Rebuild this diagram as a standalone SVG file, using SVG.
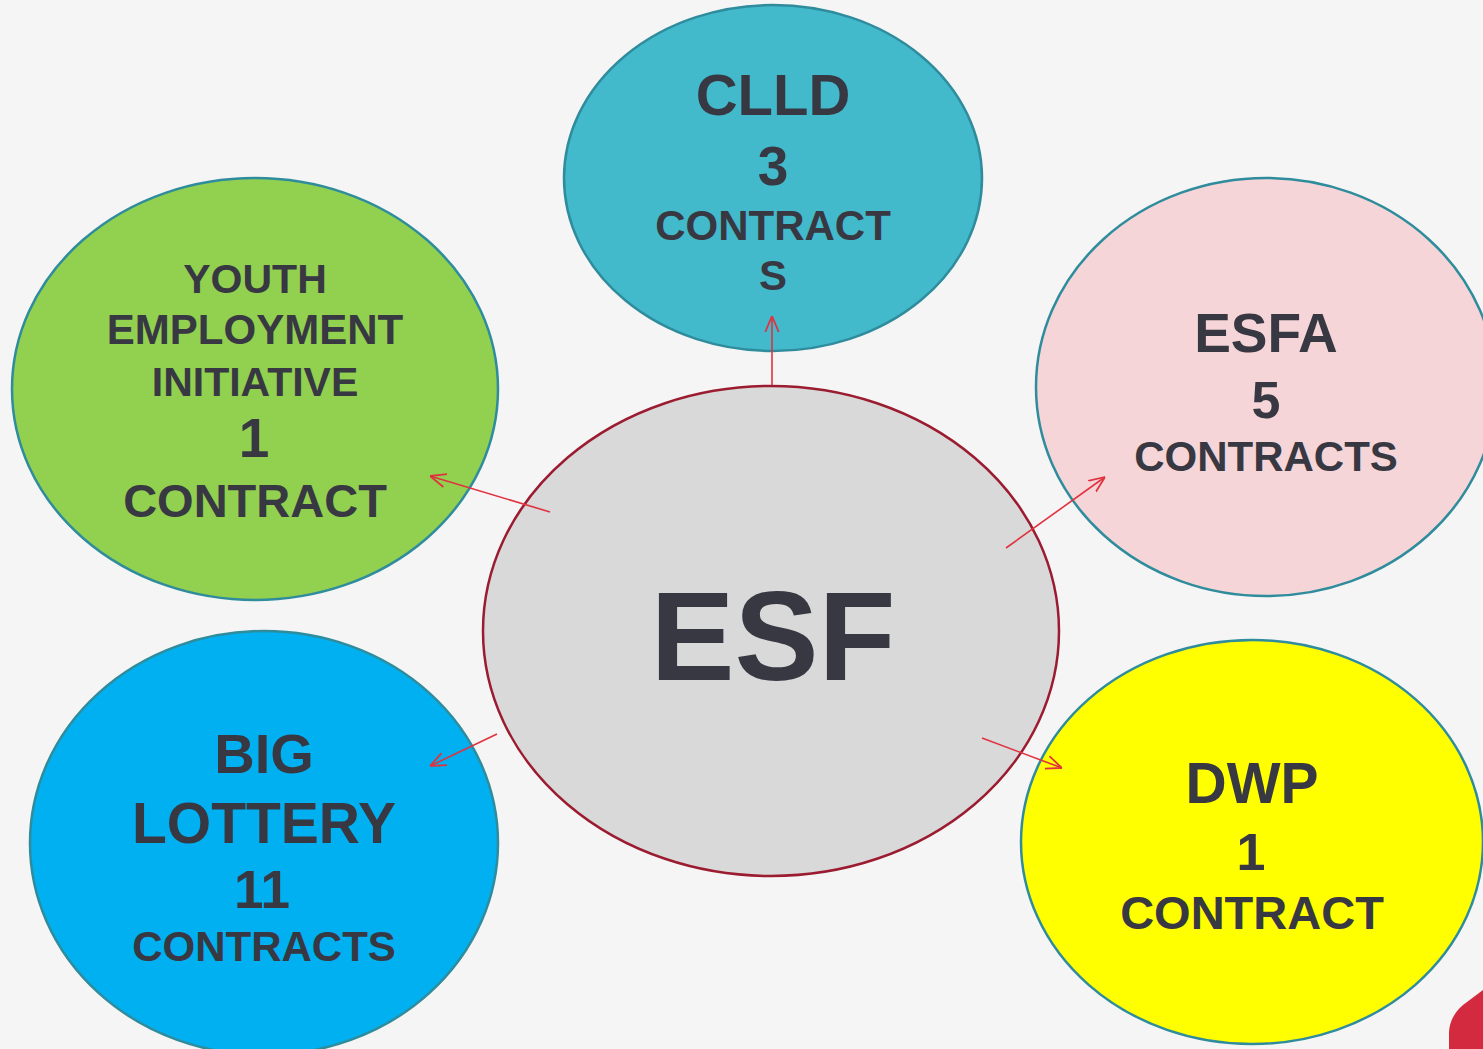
<svg xmlns="http://www.w3.org/2000/svg" width="1483" height="1049" viewBox="0 0 1483 1049">
<style>
.node ellipse{stroke-width:2.5}
.sat{stroke:#2F8C9C}
.t{font-family:"Liberation Sans",Arial,sans-serif;font-weight:bold;fill:#383843;text-anchor:middle}
.conn line{stroke:#E0323F;stroke-width:1.6;fill:none}
</style>
<defs>
<marker id="ah" viewBox="0 0 10 10" refX="10" refY="5" markerWidth="16" markerHeight="16" markerUnits="userSpaceOnUse" orient="auto">
<path d="M0,0.8 L10,5 L0,9.2" fill="none" stroke="#E0323F" stroke-width="1.1"/>
</marker>
</defs>
<rect width="1483" height="1049" fill="#F5F5F5"/>
<path d="M1449,1049 L1449,1032 Q1450,1016 1463,1005 L1483,990 L1483,1049 Z" fill="#D42A40"/>

<g id="clld" class="node">
<ellipse class="sat" cx="773" cy="178" rx="209" ry="173" fill="#43BACC"/>
<text class="t" x="773" y="115" font-size="58">CLLD</text>
<text class="t" x="773" y="185" font-size="55">3</text>
<text class="t" x="773" y="240" font-size="42">CONTRACT</text>
<text class="t" x="773" y="290" font-size="42">S</text>
</g>

<g id="yei" class="node">
<ellipse class="sat" cx="255" cy="389" rx="243" ry="211" fill="#92D050"/>
<text class="t" x="255" y="293" font-size="41">YOUTH</text>
<text class="t" x="255" y="344" font-size="42">EMPLOYMENT</text>
<text class="t" x="255" y="396" font-size="41">INITIATIVE</text>
<text class="t" x="254" y="457" font-size="55">1</text>
<text class="t" x="255" y="517" font-size="47">CONTRACT</text>
</g>

<g id="esfa" class="node">
<ellipse class="sat" cx="1266" cy="387" rx="230" ry="209" fill="#F5D5D8"/>
<text class="t" x="1266" y="352" font-size="55">ESFA</text>
<text class="t" x="1266" y="418" font-size="52">5</text>
<text class="t" x="1266" y="471" font-size="42">CONTRACTS</text>
</g>

<g id="biglottery" class="node">
<ellipse class="sat" cx="264" cy="843" rx="234" ry="212" fill="#00B0F0"/>
<text class="t" x="264" y="773" font-size="56">BIG</text>
<text class="t" x="264" y="843" font-size="57">LOTTERY</text>
<text class="t" x="262" y="908" font-size="53">11</text>
<text class="t" x="264" y="961" font-size="42">CONTRACTS</text>
</g>

<g id="dwp" class="node">
<ellipse class="sat" cx="1252" cy="842" rx="231" ry="202" fill="#FFFF00"/>
<text class="t" x="1252" y="803" font-size="57">DWP</text>
<text class="t" x="1251" y="870" font-size="52">1</text>
<text class="t" x="1252" y="929" font-size="47">CONTRACT</text>
</g>

<g id="esf" class="node">
<ellipse cx="771" cy="631" rx="288" ry="245" fill="#D9D9D9" stroke="#9B1B30"/>
<text class="t" x="773" y="680" font-size="126">ESF</text>
</g>

<g id="connectors" class="conn">
<line x1="772" y1="385" x2="772" y2="316" marker-end="url(#ah)"/>
<line x1="550" y1="512" x2="430" y2="476" marker-end="url(#ah)"/>
<line x1="1006" y1="548" x2="1105" y2="477" marker-end="url(#ah)"/>
<line x1="497" y1="734" x2="430" y2="766" marker-end="url(#ah)"/>
<line x1="982" y1="738" x2="1062" y2="768" marker-end="url(#ah)"/>
</g>
</svg>
